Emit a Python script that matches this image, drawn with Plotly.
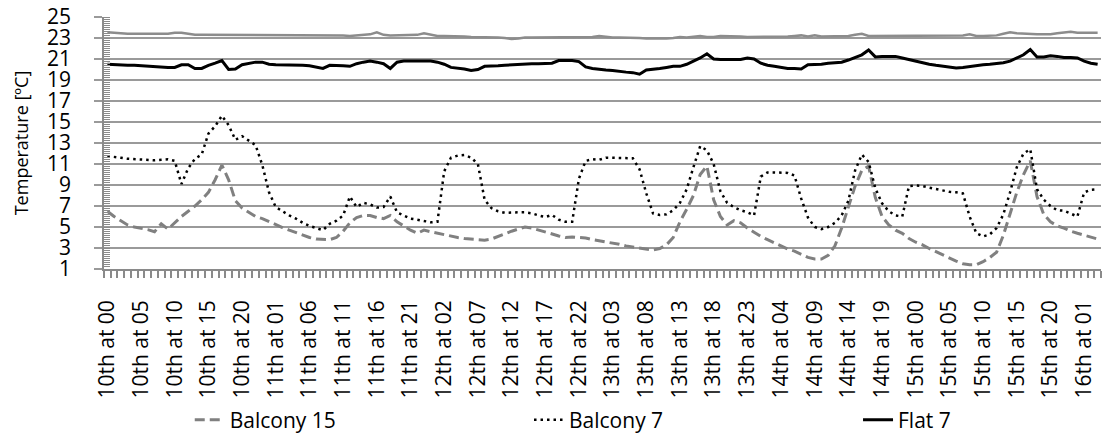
import plotly.graph_objects as go

# ---- data -------------------------------------------------------------
days = [10, 11, 12, 13, 14, 15, 16]
n_hours = 148
categories = [f"{days[h // 24]}th at {h % 24:02d}" for h in range(n_hours)]
tick_labels = categories[::5]

balcony15 = [
    6.5, 6.0, 5.6, 5.2, 5.0, 4.9, 4.75, 4.55, 5.3, 4.8,
    5.4, 6.0, 6.5, 7.0, 7.6, 8.3, 9.5, 10.9, 9.5, 7.5,
    6.8, 6.4, 6.0, 5.8, 5.5, 5.2, 4.95, 4.7, 4.45, 4.2,
    4.0, 3.85, 3.8, 3.8, 4.0, 4.6, 5.4, 5.9, 6.1, 6.1,
    5.9, 5.8, 6.1, 5.5, 5.1, 4.7, 4.4, 4.7, 4.55, 4.4,
    4.25, 4.1, 4.0, 3.9, 3.85, 3.8, 3.75, 3.85, 4.1, 4.4,
    4.6, 4.8, 5.0, 4.9, 4.7, 4.5, 4.35, 4.15, 4.0, 4.05,
    4.0, 3.95, 3.8, 3.7, 3.6, 3.45, 3.35, 3.2, 3.1, 3.0,
    2.85, 2.8, 2.95, 3.3, 4.0, 5.5, 6.7, 8.0, 10.0, 10.8,
    7.6, 6.0, 5.2, 5.6, 5.4, 4.9, 4.5, 4.1, 3.8, 3.5,
    3.2, 2.9, 2.7, 2.4, 2.1, 1.95, 1.95, 2.3, 3.2, 4.9,
    6.9, 8.9, 10.4, 10.8, 7.8, 6.0, 5.2, 4.7, 4.4, 3.9,
    3.55, 3.3, 2.95, 2.65, 2.35, 2.0, 1.75, 1.5, 1.4, 1.4,
    1.7, 2.1, 2.6, 4.2, 6.2, 8.3, 10.0, 11.3, 7.9, 6.2,
    5.5, 5.1, 4.9, 4.6, 4.4, 4.2, 4.0, 3.85,
]

balcony7 = [
    11.75, 11.7, 11.6, 11.5, 11.45, 11.4, 11.4, 11.35, 11.4, 11.45,
    11.3, 9.1, 10.6, 11.5, 11.9, 13.9, 14.6, 15.6, 14.7, 13.3,
    13.65, 13.2, 12.8, 10.9, 8.3, 6.9, 6.5, 6.1, 5.8, 5.4,
    5.1, 4.9, 4.7, 5.3, 5.6, 6.1, 7.9, 6.9, 7.3, 7.15,
    6.85, 6.9, 7.9, 6.4, 6.1, 5.8, 5.7, 5.55, 5.45, 5.5,
    10.3, 11.6, 11.8, 11.85, 11.6, 11.0, 7.6, 6.8, 6.5, 6.35,
    6.4, 6.4, 6.4, 6.3, 6.1, 5.95, 6.15, 5.7, 5.5, 5.5,
    9.6, 11.3, 11.45, 11.4, 11.6, 11.6, 11.6, 11.6, 11.55, 10.5,
    8.2, 6.3, 6.15, 6.2, 6.6, 7.3, 8.6, 10.7, 12.7, 12.3,
    11.0, 8.4, 7.3, 6.9, 6.6, 6.4, 6.1, 9.8, 10.2, 10.2,
    10.2, 10.15, 9.9, 7.7, 5.9, 5.0, 4.8, 5.0, 5.4, 6.1,
    7.5, 10.4, 11.9, 11.2, 8.7, 7.25, 6.5, 6.1, 6.0, 8.9,
    8.95, 8.9, 8.75, 8.6, 8.45, 8.35, 8.3, 8.2, 6.0, 4.4,
    4.1, 4.3, 4.9, 6.2, 8.3, 10.7, 12.0, 12.4, 8.6, 7.6,
    7.0, 6.6, 6.55, 6.25, 6.0, 8.3, 8.55, 8.6,
]

flat7 = [
    20.5, 20.45, 20.45, 20.4, 20.4, 20.35, 20.3, 20.25, 20.2, 20.2,
    20.2, 20.45, 20.45, 20.1, 20.1, 20.4, 20.6, 20.85, 20.0, 20.05,
    20.45, 20.6, 20.7, 20.7, 20.5, 20.45, 20.45, 20.45, 20.4, 20.4,
    20.35, 20.2, 20.1, 20.4, 20.4, 20.35, 20.3, 20.55, 20.7, 20.8,
    20.7, 20.55, 20.1, 20.7, 20.8, 20.8, 20.8, 20.8, 20.8, 20.7,
    20.5, 20.2, 20.15, 20.05, 19.9, 20.0, 20.3, 20.3, 20.35, 20.4,
    20.45, 20.5, 20.55, 20.55, 20.55, 20.55, 20.6, 20.85, 20.85, 20.85,
    20.75, 20.25, 20.1, 20.0, 19.95, 19.9, 19.8, 19.75, 19.7, 19.55,
    19.95, 20.0, 20.1, 20.2, 20.3, 20.3, 20.5, 20.8, 21.1, 21.5,
    21.0, 20.95, 20.95, 20.95, 20.95, 21.1, 21.0, 20.6, 20.4, 20.3,
    20.2, 20.1, 20.1, 20.05, 20.45, 20.45, 20.5, 20.6, 20.65, 20.7,
    20.9, 21.15, 21.4, 21.85, 21.2, 21.25, 21.25, 21.25, 21.1, 20.95,
    20.75, 20.6, 20.5, 20.4, 20.3, 20.25, 20.15, 20.2, 20.3, 20.4,
    20.45, 20.5, 20.55, 20.65, 20.8, 21.1, 21.4, 21.9, 21.2, 21.2,
    21.3, 21.25, 21.15, 21.15, 21.1, 20.8, 20.6, 20.5,
]

flat15 = [
    23.55, 23.5, 23.4, 23.4, 23.4, 23.4, 23.4, 23.4, 23.4, 23.4,
    23.5, 23.5, 23.4, 23.3, 23.3, 23.3, 23.3, 23.3, 23.3, 23.3,
    23.3, 23.3, 23.3, 23.3, 23.3, 23.3, 23.3, 23.3, 23.3, 23.3,
    23.25, 23.25, 23.25, 23.3, 23.25, 23.25, 23.2, 23.25, 23.3, 23.35,
    23.55, 23.3, 23.25, 23.25, 23.25, 23.25, 23.3, 23.45, 23.3, 23.2,
    23.2, 23.2, 23.2, 23.15, 23.1, 23.1, 23.1, 23.1, 23.05, 23.0,
    22.9, 22.95, 23.05, 23.05, 23.05, 23.05, 23.05, 23.1, 23.05, 23.05,
    23.1, 23.1, 23.1, 23.2, 23.1, 23.05, 23.05, 23.05, 23.0, 23.0,
    22.95, 22.95, 22.9, 22.95, 23.0, 23.1, 23.05, 23.15, 23.2, 23.1,
    23.1, 23.2, 23.2, 23.2, 23.15, 23.1, 23.1, 23.1, 23.1, 23.1,
    23.1, 23.15, 23.2, 23.25, 23.15, 23.25, 23.15, 23.15, 23.15, 23.15,
    23.2, 23.3, 23.4, 23.2, 23.2, 23.2, 23.2, 23.2, 23.25, 23.25,
    23.25, 23.25, 23.25, 23.25, 23.2, 23.2, 23.25, 23.25, 23.35, 23.2,
    23.2, 23.2, 23.25, 23.4, 23.55, 23.45, 23.4, 23.4, 23.35, 23.35,
    23.35, 23.45, 23.55, 23.6, 23.5, 23.5, 23.5, 23.5,
]

# ---- figure -----------------------------------------------------------
x = list(range(len(categories)))
FONT = "Open Sans, Liberation Sans, sans-serif"
GRID = "#9a9a9a"

fig = go.Figure()
fig.add_trace(go.Scatter(
    x=x, y=flat15, mode="lines", name="Flat 15", showlegend=False,
    line=dict(color="#8c8c8c", width=2.5), customdata=categories,
    hovertemplate="%{customdata}: %{y}<extra>Flat 15</extra>"))
fig.add_trace(go.Scatter(
    x=x, y=balcony15, mode="lines", name="Balcony 15", legend="legend",
    line=dict(color="#808080", width=3, dash="10px,5px"), customdata=categories,
    hovertemplate="%{customdata}: %{y}<extra>Balcony 15</extra>"))
fig.add_trace(go.Scatter(
    x=x, y=balcony7, mode="lines", name="Balcony 7", legend="legend2",
    line=dict(color="#000000", width=2.5, dash="2.5px,4px"), customdata=categories,
    hovertemplate="%{customdata}: %{y}<extra>Balcony 7</extra>"))
fig.add_trace(go.Scatter(
    x=x, y=flat7, mode="lines", name="Flat 7", legend="legend3",
    line=dict(color="#000000", width=3), customdata=categories,
    hovertemplate="%{customdata}: %{y}<extra>Flat 7</extra>"))

legend_common = dict(orientation="h", y=-0.6, xanchor="left", yanchor="middle",
                     font=dict(family=FONT, size=21, color="black"),
                     bgcolor="rgba(0,0,0,0)")

fig.update_layout(
    width=1104, height=444,
    margin=dict(l=104, r=3, t=17, b=171),
    paper_bgcolor="white", plot_bgcolor="white",
    font=dict(family=FONT, size=21, color="black"),
    showlegend=True,
    legend=dict(x=0.086, **legend_common),
    legend2=dict(x=0.4263, **legend_common),
    legend3=dict(x=0.7563, **legend_common),
)

fig.update_xaxes(
    range=[-0.5, len(categories) - 0.5],
    tickmode="array", tickvals=x[::5], ticktext=tick_labels,
    tickangle=-90, ticks="", ticklabelstandoff=21,
    tickfont=dict(family=FONT, size=21, color="black"),
    showgrid=False, zeroline=False,
    showline=True, linecolor="#8a8a8a", linewidth=1.5,
    minor=dict(ticks="outside", ticklen=7, tickwidth=1.5, tickcolor="#8a8a8a",
               tick0=-0.5, dtick=1, showgrid=False),
)

fig.update_yaxes(
    range=[1, 25], tick0=1, dtick=2,
    ticks="outside", ticklen=8, tickwidth=1.5, tickcolor=GRID,
    ticklabelstandoff=19,
    tickfont=dict(family=FONT, size=21, color="black"),
    showgrid=True, gridcolor=GRID, gridwidth=1.5, zeroline=False,
    showline=True, linecolor="#8a8a8a", linewidth=1.5,
    minor=dict(ticks="inside", ticklen=6, tickwidth=1, tickcolor="#8a8a8a",
               tick0=1, dtick=0.2, showgrid=False),
    title=dict(text="Temperature [ºC]", standoff=14,
               font=dict(family=FONT, size=18, color="black")),
)

fig.write_html("out.html")
